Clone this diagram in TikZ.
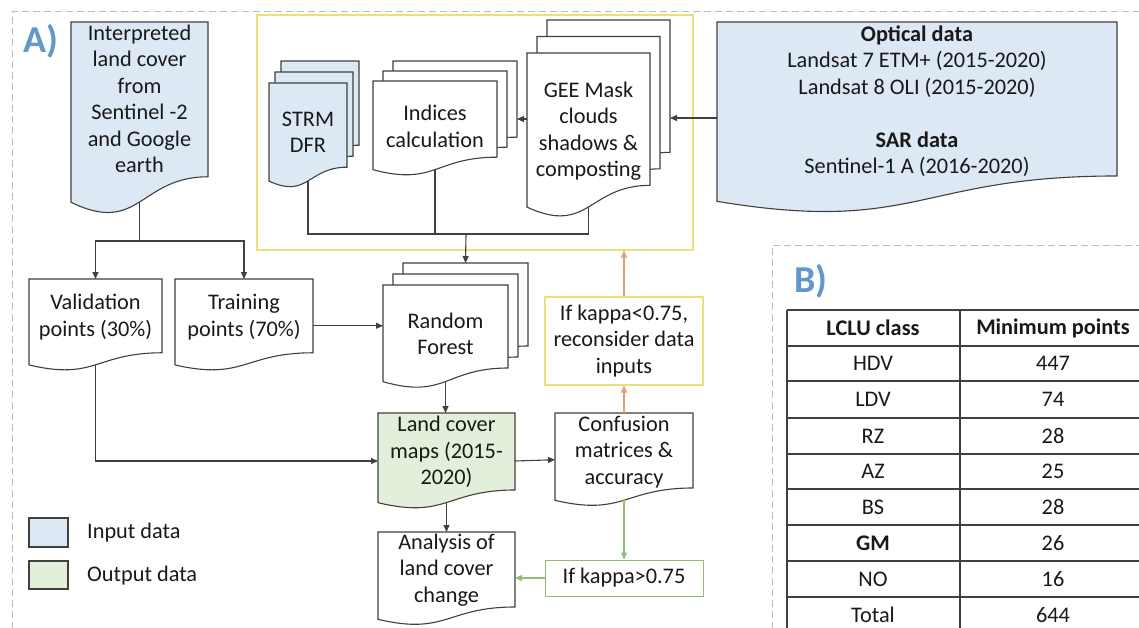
\documentclass[tikz,border=0pt]{standalone}
\usepackage{fontspec}
\setmainfont{Carlito}
\usetikzlibrary{arrows.meta,calc}

\definecolor{inblue}{RGB}{221,232,245}
\definecolor{outgreen}{RGB}{226,239,218}
\definecolor{framegrey}{RGB}{172,192,208}
\definecolor{labelblue}{RGB}{98,152,204}
\definecolor{loopyellow}{RGB}{240,222,125}
\definecolor{looporange}{RGB}{224,160,112}
\definecolor{loopgreen}{RGB}{146,188,116}
\definecolor{ink}{RGB}{64,64,64}
\definecolor{txtc}{RGB}{25,25,25}

\tikzset{
  docline/.style={draw=ink, line width=1.1pt},
  box/.style={inner sep=0pt, outer sep=0pt, draw=none},
  txt/.style={align=center, inner sep=0pt, text=txtc, font=\fontsize{22.3}{26.5}\selectfont},
  conn/.style={draw=ink, line width=1.1pt},
  arr/.style={conn, -{Triangle[length=7pt,width=6pt]}},
  frame/.style={draw=framegrey, line width=1pt, dash pattern=on 7pt off 4pt},
  grid/.style={draw=ink, line width=1.1pt},
}

% document outline: x, y (top left), width, height, fill
\newcommand\docpath[5]{%
  \path[docline,fill=#5] ({#1},{#2}) -- ({#1+#3},{#2}) -- ({#1+#3},{#2+0.802*#4})
    .. controls ({#1+0.5*#3},{#2+0.802*#4}) and ({#1+0.5*#3},{#2+1.107*#4}) ..
    ({#1},{#2+0.934*#4}) -- cycle;}

% single document: name, x, y, w, h, fill
\newcommand\docbox[6]{%
  \docpath{#2}{#3}{#4}{#5}{#6}
  \node[box, minimum width=#4pt, minimum height=#5pt] (#1) at ({#2+0.5*#4},{#3+0.5*#5}) {};
  \coordinate (#1-b) at ({#2+0.5*#4},{#3+0.933*#5});}

% stacked documents: name, x, y, w, h (front sheet), fill, dx, dy
\newcommand\docstack[8]{%
  \docpath{#2+2*#7}{#3-2*#8}{#4}{#5}{#6}
  \docpath{#2+#7}{#3-#8}{#4}{#5}{#6}
  \docpath{#2}{#3}{#4}{#5}{#6}
  \node[box, minimum width={#4pt+2*#7pt}, minimum height={#5pt+2*#8pt}] (#1)
    at ({#2+0.5*#4+#7},{#3-#8+0.5*#5}) {};
  \coordinate (#1-b) at ({#2+0.5*#4},{#3+0.933*#5});
  \coordinate (#1-t) at ({#2+2*#7+0.5*#4},{#3-2*#8});}

\begin{document}
\begin{tikzpicture}[x=1pt,y=-1pt]
\useasboundingbox (0,0) rectangle (1139,628);
\fill[white] (0,0) rectangle (1139,628);

\begin{scope}
\clip (0,0) rectangle (1139,628);

% dashed panel frames
\draw[frame] (12,640) -- (12,12) -- (1150,12);
\draw[frame] (772,640) -- (772,245) -- (1150,245);

% panel letters
\node[anchor=base west, inner sep=0pt, text=labelblue,
      font=\fontsize{38}{38}\selectfont\bfseries] (lblA) at (23,53) {A)};
\node[anchor=base west, inner sep=0pt, text=labelblue,
      font=\fontsize{38}{38}\selectfont\bfseries] (lblB) at (794,292) {B)};

% pre-processing group
\node[draw=loopyellow, line width=1.2pt, minimum width=436pt, minimum height=235pt,
      inner sep=0pt] (prep) at (475,132.5) {};

% document shapes
\docbox{int}{71}{22}{137}{193}{inblue}
\docstack{strm}{269}{83}{78}{105}{inblue}{6}{11}
\docstack{ind}{373}{81}{124}{95}{white}{10}{10}
\docstack{gee}{527}{53}{123}{165}{white}{10}{16.5}
\docbox{opt}{717}{22}{400}{192}{inblue}
\docbox{val}{29}{279}{133}{92}{white}
\docbox{trn}{175}{279}{138}{92}{white}
\docstack{rf}{383}{285}{125}{103.5}{white}{10}{11}
\docbox{lcm}{378}{413}{137}{96}{outgreen}
\docbox{conf}{555}{413}{138}{93.5}{white}
\docbox{ana}{378}{532}{137}{93.5}{white}

% texts
\node[txt] (int-lbl) at (139.5,99) {Interpreted\\land cover\\from\\Sentinel -2\\and Google\\earth};
\node[txt] (strm-lbl) at (308,132.5) {STRM\\DFR};
\node[txt] (ind-lbl) at (435,126.5) {Indices\\calculation};
\node[txt] (gee-lbl) at (588.5,131) {GEE Mask\\clouds\\shadows \&\\composting};
\node[txt] (opt-lbl) at (917,101) {\textbf{Optical data}\\Landsat 7 ETM+ (2015-2020)\\Landsat 8 OLI (2015-2020)\\[26.5pt]\textbf{SAR data}\\Sentinel-1 A (2016-2020)};
\node[txt] (val-lbl) at (95.5,317) {Validation\\points (30\%)};
\node[txt] (trn-lbl) at (244,317) {Training\\points (70\%)};
\node[txt] (rf-lbl) at (445.5,334) {Random\\Forest};
\node[txt] (lcm-lbl) at (446.5,452) {Land cover\\maps (2015-\\2020)};
\node[txt] (conf-lbl) at (624,452) {Confusion\\matrices \&\\accuracy};
\node[txt] (ana-lbl) at (446.5,570) {Analysis of\\land cover\\change};

% accuracy decisions
\node[txt, draw=loopyellow, line width=1.2pt, minimum width=158pt, minimum height=88pt]
  (klo) at (624,341) {If kappa<0.75,\\reconsider data\\inputs};
\node[txt, draw=loopgreen, line width=1pt, minimum width=158pt, minimum height=36pt]
  (khi) at (624,578) {If kappa>0.75};

% connectors
\coordinate (split) at (139.5,241);
\coordinate (merge) at (466,234);
\draw[conn] (int-b) -- (split);
\draw[arr] (split) -| (val.north);
\draw[arr] (split) -| (trn.north);
\draw[conn] (strm-b) -- (strm-b |- merge) -- (gee-b |- merge) -- (gee-b);
\draw[conn] (ind-b) -- (ind-b |- merge);
\draw[arr] (merge) -- (rf-t);
\draw[arr] (opt.west) -- (opt.west -| gee.east);
\draw[arr] (gee.west) -- (gee.west -| ind.east);
\draw[arr] (trn.east |- rf.west) -- (rf.west);
\draw[arr] (val-b) |- (lcm.west);
\draw[arr] (rf-b) -- (rf-b |- lcm.north);
\draw[arr] (lcm.east) -- (conf.west);
\draw[arr] (lcm-b) -- (ana.north);
\draw[arr, draw=looporange] (conf.north) -- (klo.south);
\draw[arr, draw=looporange] (klo.north) -- (klo.north |- prep.south);
\draw[arr, draw=loopgreen] (conf-b) -- (khi.north);
\draw[arr, draw=loopgreen] (khi.west) -- (khi.west -| ana.east);

% legend
\node[draw=ink, line width=1.1pt, fill=inblue, minimum width=39pt, minimum height=29pt,
      inner sep=0pt] (leg-in) at (48.5,532.5) {};
\node[draw=ink, line width=1.1pt, fill=outgreen, minimum width=39pt, minimum height=28pt,
      inner sep=0pt] (leg-out) at (48.5,575) {};
\node[txt, anchor=west] (leg-in-lbl) at (87,533) {Input data};
\node[txt, anchor=west] (leg-out-lbl) at (87,576) {Output data};

% class table
\foreach \yy in {310,346,381,418,454,489,525,561,597,633}
  \draw[grid] (787,\yy) -- (1146,\yy);
\draw[grid] (787,310) -- (787,633);
\draw[grid] (960,310) -- (960,633);
\draw[grid] (1146,310) -- (1146,633);
\node[txt] (th1) at (873,328) {\textbf{LCLU class}};
\node[txt] (th2) at (1053,328) {\textbf{Minimum points}};
\foreach \cls/\pts/\yy [count=\i] in {HDV/447/363.5, LDV/74/399.5, RZ/28/436,
    AZ/25/471.5, BS/28/507, \textbf{GM}/26/543, NO/16/579, Total/644/615}{
  \node[txt] (c1-\i) at (873,\yy) {\cls};
  \node[txt] (c2-\i) at (1053,\yy) {\pts};
}
\end{scope}
\end{tikzpicture}
\end{document}
